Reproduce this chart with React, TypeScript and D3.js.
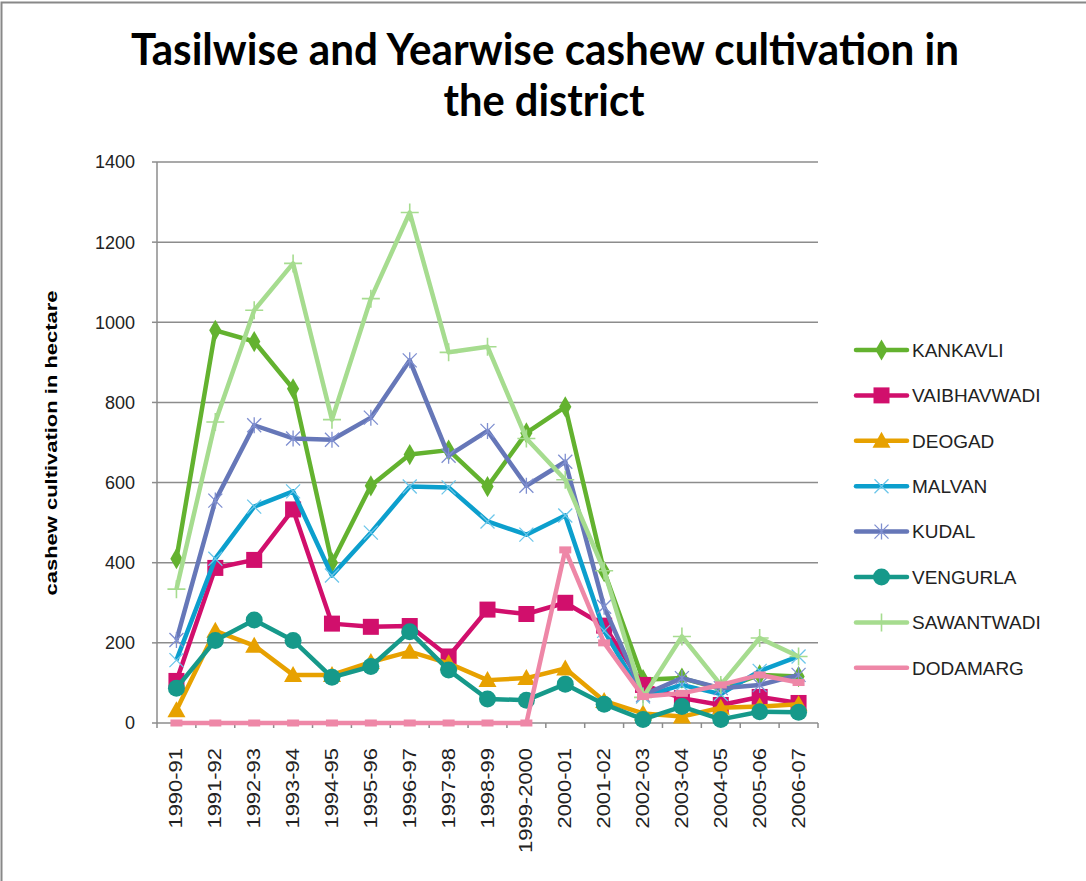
import React from "react";
import * as d3 from "d3";

const categories = ["1990-91","1991-92","1992-93","1993-94","1994-95","1995-96","1996-97","1997-98","1998-99","1999-2000","2000-01","2001-02","2002-03","2003-04","2004-05","2005-06","2006-07"];
const kankavli = [410, 980, 952, 834, 400, 592, 670, 681, 590, 724, 789, 378, 108, 112, 85, 120, 116];
const vaibhavwadi = [105, 387, 407, 533, 248, 240, 242, 166, 283, 272, 300, 243, 95, 62, 45, 65, 50];
const deogad = [32, 230, 193, 120, 120, 152, 178, 149, 107, 112, 136, 55, 24, 16, 38, 41, 47];
const malvan = [157, 410, 540, 578, 368, 475, 590, 588, 503, 470, 518, 230, 66, 95, 72, 130, 166];
const kudal = [207, 555, 743, 710, 707, 762, 905, 667, 729, 592, 652, 290, 70, 112, 87, 95, 120];
const vengurla = [87, 206, 257, 206, 114, 141, 228, 132, 60, 57, 97, 47, 9, 41, 9, 28, 27];
const sawantwadi = [334, 751, 1030, 1147, 757, 1059, 1274, 925, 939, 710, 607, 380, 64, 216, 95, 212, 166];
const dodamarg = [0, 0, 0, 0, 0, 0, 0, 0, 0, 0, 432, 200, 66, 74, 95, 120, 101];
const yTicks = [0, 200, 400, 600, 800, 1000, 1200, 1400];

const seriesNames = ["KANKAVLI","VAIBHAVWADI","DEOGAD","MALVAN","KUDAL","VENGURLA","SAWANTWADI","DODAMARG"];
const seriesValues = [kankavli, vaibhavwadi, deogad, malvan, kudal, vengurla, sawantwadi, dodamarg];
const seriesColors = ["#63B22F","#D10F6C","#E7A100","#0C9FCD","#6677B8","#16998A","#A6DC8F","#EE87A7"];
const markerColors = ["#63B22F","#D10F6C","#E7A100","#6CC6EA","#7F8FD0","#16998A","#A6DC8F","#EE87A7"];
const markerTypes = ["diamond","square","triangle","x","asterisk","circle","plus","dash"];

function Marker({ type, x, y, color }: { type: string; x: number; y: number; color: string }) {
  const t = `translate(${x},${y})`;
  switch (type) {
    case "diamond":
      return <path transform={t} d={d3.symbol(d3.symbolDiamond, 130)()!} fill={color} />;
    case "square":
      return <rect x={x - 8} y={y - 8} width={16} height={16} fill={color} />;
    case "triangle":
      return <path transform={t} d="M0,-9L9,7L-9,7Z" fill={color} />;
    case "circle":
      return <circle cx={x} cy={y} r={8.5} fill={color} />;
    case "x":
      return <path transform={t} d="M-7,-7L7,7M-7,7L7,-7" stroke={color} strokeWidth={1.3} fill="none" />;
    case "asterisk":
      return <path transform={t} d="M-7,-7L7,7M-7,7L7,-7M0,-8L0,8" stroke={color} strokeWidth={1.3} fill="none" />;
    case "plus":
      return <path transform={t} d="M-9,0L9,0M0,-9L0,9" stroke={color} strokeWidth={1.6} fill="none" />;
    case "dash":
      return <rect x={x - 6} y={y - 3.5} width={12} height={7} fill={color} />;
    default:
      return null;
  }
}

export default function App() {
  const left = 157, right = 818, top = 162, bottom = 723;
  const x = d3.scaleBand<string>().domain(categories).range([left, right]);
  const y = d3.scaleLinear().domain([0, 1400]).range([bottom, top]);
  const cx = (c: string) => (x(c) as number) + x.bandwidth() / 2;
  const line = d3.line<number>().x((_, i) => cx(categories[i])).y((v) => y(v));

  const legendX0 = 856, legendX1 = 907, legendY0 = 350, legendStep = 45.4;
  const font = "'Liberation Sans', Arial, sans-serif";

  return (
    <svg width={1086} height={881} style={{ position: "absolute", left: 0, top: 0, background: "#fff" }}>
      <rect x={0} y={0} width={1086} height={881} fill="#fff" />
      <path d="M1.5,890V2.5H1090" fill="none" stroke="#888" strokeWidth={2} />

      <text x={545} y={65} textAnchor="middle" fontFamily="Lato, 'Open Sans', sans-serif" fontWeight="bold" fontSize={43} textLength={828} lengthAdjust="spacingAndGlyphs" fill="#000">Tasilwise and Yearwise cashew cultivation in</text>
      <text x={544} y={116} textAnchor="middle" fontFamily="Lato, 'Open Sans', sans-serif" fontWeight="bold" fontSize={43} textLength={201} lengthAdjust="spacingAndGlyphs" fill="#000">the district</text>

      {yTicks.map((t) => (
        <g key={t}>
          <line x1={left} x2={right} y1={y(t)} y2={y(t)} stroke="#8c8c8c" strokeWidth={1.5} />
          <line x1={left - 5} x2={left} y1={y(t)} y2={y(t)} stroke="#8c8c8c" strokeWidth={1.5} />
          <text x={135} y={y(t)} dy="0.36em" textAnchor="end" fontFamily={font} fontSize={18} fill="#222">{t}</text>
        </g>
      ))}
      <line x1={left} x2={left} y1={top} y2={bottom} stroke="#8c8c8c" strokeWidth={1.5} />
      {categories.map((c, i) => (
        <line key={"t" + i} x1={x(c)} x2={x(c)} y1={bottom} y2={bottom + 5} stroke="#8c8c8c" strokeWidth={1.5} />
      ))}
      <line x1={right} x2={right} y1={bottom} y2={bottom + 5} stroke="#8c8c8c" strokeWidth={1.5} />

      <text transform={`translate(57,443) rotate(-90)`} textAnchor="middle" fontFamily={font} fontWeight="bold" fontSize={16} textLength={305} lengthAdjust="spacingAndGlyphs" fill="#000">cashew cultivation in hectare</text>

      {categories.map((c) => (
        <text key={c} transform={`translate(${cx(c) + 6},748) rotate(-90) scale(1.22,1)`} textAnchor="end" fontFamily={font} fontSize={18} fill="#222">{c}</text>
      ))}

      {seriesValues.map((vals, si) => (
        <g key={seriesNames[si]}>
          <path d={line(vals)!} fill="none" stroke={seriesColors[si]} strokeWidth={4.5} strokeLinejoin="round" />
          {vals.map((v, i) => (
            <Marker key={i} type={markerTypes[si]} x={cx(categories[i])} y={y(v)} color={markerColors[si]} />
          ))}
        </g>
      ))}

      {seriesNames.map((n, i) => {
        const ly = legendY0 + i * legendStep;
        return (
          <g key={"l" + n}>
            <line x1={legendX0} x2={legendX1} y1={ly} y2={ly} stroke={seriesColors[i]} strokeWidth={4.5} strokeLinecap="round" />
            {markerTypes[i] !== "dash" && (
              <Marker type={markerTypes[i]} x={(legendX0 + legendX1) / 2} y={ly} color={markerColors[i]} />
            )}
            <text x={912} y={ly} dy="0.36em" fontFamily={font} fontSize={19} fill="#222">{n}</text>
          </g>
        );
      })}
    </svg>
  );
}
